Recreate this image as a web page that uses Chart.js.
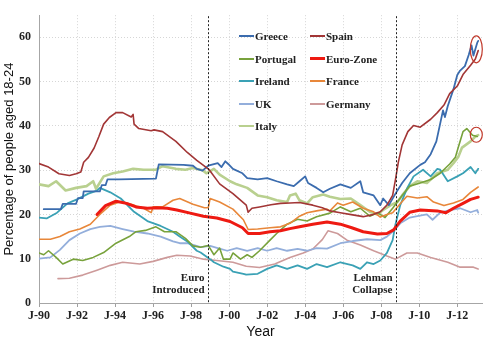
<!DOCTYPE html>
<html><head><meta charset="utf-8">
<script src="https://cdn.jsdelivr.net/npm/chart.js@4.4.0/dist/chart.umd.min.js"></script>
<style>
html,body{margin:0;padding:0;background:#fff;}
#wrap{position:relative;width:490px;height:338px;overflow:hidden;}
canvas{position:absolute;left:0;top:0;}
.lg{position:absolute;font:bold 11px "Liberation Serif",serif;color:#222;white-space:nowrap;height:14px;line-height:14px;}
.lg i{display:inline-block;width:15px;height:2px;vertical-align:middle;margin-right:1px;position:relative;top:-1px;}
</style></head><body>
<div id="wrap"><canvas id="c" width="490" height="338"></canvas><div id="legend"></div></div>
<script>
// ---------- data (years as decimals, values in %) ----------
const tickYears  = [1990,1992,1994,1996,1998,2000,2002,2004,2006,2008,2010,2012];
const tickLabels = ['J-90','J-92','J-94','J-96','J-98','J-00','J-02','J-04','J-06','J-08','J-10','J-12'];
const yTicks = [0,10,20,30,40,50,60];

const greeceT = [1990.25,1991.15,1991.25,1991.95,1992.05,1992.3,1992.35,1993.2,1993.3,1993.5,1993.6,1994.2,1996.15,1996.3,1997.6,1998.1,1998.3,1998.6,1998.9,1999.4,1999.6,1999.8,1999.95,2000.2,2000.7,2000.95,2001.5,2002.0,2002.5,2003.05,2003.4,2003.7,2004.0,2004.15,2004.6,2004.95,2005.3,2005.85,2006.4,2006.9,2007.05,2007.6,2007.95,2008.1,2008.4,2008.75,2009.1,2009.5,2010.05,2010.3,2010.6,2010.9,2011.1,2011.25,2011.35,2011.5,2011.8,2012.0,2012.15,2012.4,2012.6,2012.75,2012.85,2013.05,2013.1];
const greeceV = [21.2,21.2,22.4,22.4,23.7,23.7,25.2,25.2,26.6,26.6,27.9,27.9,28.1,31.3,31.2,31.0,30.3,29.9,31.0,31.6,30.7,32.0,31.4,30.3,29.3,28.2,27.9,28.2,27.5,26.8,26.4,27.5,28.6,27.1,26.0,25.0,25.8,26.8,26.0,27.5,25.0,24.3,22.1,23.6,22.1,24.7,27.1,29.3,31.2,31.8,33.6,36.5,40.5,43.5,42.0,44.5,48.3,51.5,52.5,53.5,56.0,58.2,55.9,58.8,59.2];

const spainT = [1990.0,1990.5,1991.05,1991.6,1991.95,1992.2,1992.35,1992.6,1992.9,1993.15,1993.4,1993.7,1994.05,1994.4,1994.85,1994.95,1995.0,1995.25,1995.9,1996.05,1996.5,1997.2,1997.8,1998.3,1998.95,1999.5,2000.2,2000.9,2001.0,2001.2,2001.6,2002.2,2002.7,2003.2,2003.7,2004.4,2004.9,2005.3,2005.85,2006.5,2007.05,2007.5,2007.95,2008.3,2008.6,2008.75,2008.9,2009.1,2009.4,2009.7,2010.05,2010.6,2010.95,2011.3,2011.6,2012.0,2012.3,2012.7,2012.95,2013.1];
const spainV = [31.5,30.7,29.2,28.8,29.2,29.6,31.8,32.9,35.0,37.6,40.4,41.9,43.0,43.0,42.0,42.6,40.4,39.4,38.9,39.1,38.7,36.5,34.0,32.2,30.1,26.9,24.7,22.1,20.5,21.4,21.7,22.2,22.5,22.6,22.7,22.1,21.5,20.8,20.4,19.9,19.5,19.9,20.6,22.1,24.3,27.9,31.8,35.7,38.7,40.1,39.7,41.5,43.0,44.7,47.3,49.0,51.6,53.7,55.1,57.0];

const portugalT = [1990.0,1990.25,1990.5,1990.9,1991.25,1991.8,1992.3,1992.85,1993.4,1994.05,1994.75,1995.1,1995.6,1996.15,1996.6,1997.2,1997.7,1998.1,1998.5,1998.9,1999.2,1999.5,1999.7,2000.05,2000.2,2000.6,2000.95,2001.2,2001.6,2002.15,2002.5,2003.05,2003.6,2004.1,2004.6,2005.3,2005.85,2006.4,2006.9,2007.4,2007.8,2008.2,2008.6,2009.1,2009.5,2010.05,2010.6,2011.1,2011.6,2011.9,2012.05,2012.3,2012.5,2012.8,2013.05];
const portugalV = [11.3,10.9,11.8,10.3,8.8,9.9,9.6,10.3,11.4,13.5,15.0,16.1,16.4,17.2,16.1,16.1,14.6,12.9,12.6,13.0,10.9,12.4,9.9,9.9,11.3,9.9,10.9,10.3,11.8,14.2,15.7,17.8,18.9,18.5,19.5,20.3,21.7,20.6,21.4,19.6,20.4,19.3,21.4,24.3,26.4,27.1,27.9,29.3,31.4,32.9,35.1,38.7,39.4,37.9,37.6];

const euroT = [1993.05,1993.5,1994.05,1994.6,1995.1,1995.7,1996.2,1996.75,1997.25,1997.95,1998.65,1999.35,2000.05,2000.7,2001.0,2001.6,2002.15,2002.7,2003.2,2003.7,2004.4,2005.15,2005.85,2006.45,2007.05,2007.8,2008.3,2008.65,2009.0,2009.5,2010.05,2010.95,2011.4,2011.8,2012.3,2012.7,2013.1];
const euroV = [20.0,22.0,23.0,22.5,21.7,21.4,21.5,21.4,21.0,20.3,19.6,19.2,18.4,17.0,15.7,15.7,16.1,16.3,16.8,17.2,17.8,18.3,17.8,17.0,16.1,15.6,15.7,16.5,18.5,20.5,21.0,20.8,20.4,21.4,22.5,23.4,23.9];

const irelandT = [1990.0,1990.4,1990.95,1991.5,1992.0,1992.6,1993.05,1993.2,1993.75,1994.3,1995.0,1995.7,1996.4,1997.05,1997.4,1997.8,1998.3,1998.5,1999.0,1999.2,1999.7,2000.05,2000.2,2000.75,2000.9,2001.5,2002.0,2002.5,2003.05,2003.6,2004.1,2004.6,2005.15,2005.85,2006.5,2006.9,2007.25,2007.6,2007.95,2008.3,2008.6,2008.75,2009.0,2009.35,2009.7,2010.2,2010.6,2010.95,2011.1,2011.5,2012.0,2012.3,2012.7,2012.95,2013.1];
const irelandV = [19.3,19.1,20.4,22.5,23.4,24.7,25.4,26.0,25.0,23.6,20.6,18.5,17.4,16.1,15.0,13.9,11.8,11.4,9.9,9.2,8.2,7.7,7.1,6.6,6.4,6.6,7.7,8.5,7.7,8.5,7.7,8.8,8.1,9.2,8.5,7.7,9.2,8.8,9.6,11.3,14.2,17.8,22.1,25.8,28.6,30.1,28.6,30.3,30.1,27.5,28.6,29.3,30.7,29.3,30.3];

const franceT = [1990.0,1990.6,1991.1,1991.6,1992.15,1992.7,1993.2,1993.75,1994.3,1995.0,1995.5,1995.9,1996.0,1996.5,1997.05,1997.4,1998.1,1998.7,1998.9,1999.0,1999.5,2000.2,2000.75,2001.0,2001.5,2002.15,2002.7,2003.2,2003.7,2004.1,2004.6,2005.15,2005.3,2005.7,2006.0,2006.5,2007.05,2007.6,2007.95,2008.3,2008.6,2009.0,2009.35,2009.9,2010.4,2010.75,2011.3,2011.8,2012.3,2012.7,2013.1];
const franceV = [14.4,14.4,15.0,16.1,16.7,17.8,20.0,22.1,22.9,22.1,21.4,20.4,21.7,21.7,23.2,23.6,22.3,21.5,21.5,23.6,22.8,21.2,18.8,16.6,16.7,17.0,17.2,18.0,19.6,20.4,20.8,21.2,20.8,22.6,22.1,22.8,21.4,20.6,19.4,20.0,20.4,22.4,24.1,23.7,24.0,22.8,22.0,22.6,23.4,25.0,26.2];

const ukT = [1990.0,1990.6,1991.1,1991.6,1992.15,1992.7,1993.2,1993.75,1994.4,1995.0,1995.7,1996.4,1997.05,1997.4,1997.8,1998.5,1999.0,1999.4,1999.9,2000.4,2000.95,2001.5,2002.0,2002.5,2003.05,2003.6,2004.1,2004.6,2005.15,2005.85,2006.5,2007.25,2007.95,2008.3,2008.65,2009.0,2009.5,2009.9,2010.4,2010.7,2011.1,2011.6,2012.15,2012.7,2013.05,2013.1];
const ukV = [10.0,10.3,12.0,14.2,15.7,16.7,17.2,17.4,16.7,16.1,15.7,15.0,13.9,13.5,13.5,12.6,12.9,12.4,11.8,12.4,11.8,12.4,11.8,12.4,11.8,12.2,11.8,12.4,12.3,13.5,14.0,14.4,14.2,15.0,16.3,18.0,19.3,19.6,20.0,18.8,20.4,21.0,21.4,20.5,21.0,20.4];

const germanyT = [1991.0,1991.6,1992.3,1993.05,1993.75,1994.4,1995.3,1996.0,1996.75,1997.25,1997.95,1998.65,1999.35,2000.2,2000.9,2001.6,2002.4,2003.2,2003.9,2004.4,2004.9,2005.2,2005.7,2006.2,2006.9,2007.6,2008.3,2008.75,2009.35,2009.9,2010.6,2011.5,2012.15,2012.85,2013.1];
const germanyV = [5.5,5.6,6.3,7.4,8.5,9.2,8.8,9.4,10.3,10.8,10.6,9.9,9.6,9.2,8.3,8.0,8.8,10.3,11.3,12.2,14.3,16.3,15.7,14.2,13.1,11.8,10.6,9.9,11.3,11.3,10.3,9.2,8.1,8.1,7.7];

const italyT = [1990.0,1990.5,1990.9,1991.4,1991.95,1992.5,1992.85,1993.0,1993.4,1993.9,1994.4,1994.95,1995.5,1996.15,1996.5,1997.2,1997.7,1998.1,1998.6,1998.8,1999.2,1999.5,2000.05,2000.4,2000.95,2001.5,2002.0,2002.5,2003.05,2003.2,2003.5,2003.7,2004.1,2004.4,2004.95,2005.3,2005.85,2006.4,2006.9,2007.4,2007.8,2008.1,2008.5,2008.85,2009.1,2009.5,2009.9,2010.4,2010.95,2011.5,2011.8,2012.05,2012.25,2012.7,2012.95,2013.1];
const italyV = [26.8,26.4,27.5,25.4,26.0,26.4,27.5,25.8,28.6,29.3,29.7,30.3,30.1,30.1,30.9,30.3,30.1,30.5,30.0,29.3,30.3,29.0,27.5,26.8,26.0,24.3,23.9,23.2,22.8,24.3,24.7,23.2,22.5,23.9,24.5,24.0,23.5,23.6,22.1,20.6,20.0,21.0,22.1,22.8,24.3,26.4,27.5,27.1,29.3,30.1,31.6,33.0,35.1,36.5,37.6,37.9];

const seriesNames = ['Greece','Spain','Portugal','Euro-Zone','Ireland','France','UK','Germany','Italy'];
const seriesT = [greeceT,spainT,portugalT,euroT,irelandT,franceT,ukT,germanyT,italyT];
const seriesV = [greeceV,spainV,portugalV,euroV,irelandV,franceV,ukV,germanyV,italyV];

const eventYears  = [1998.9, 2008.8];
const eventLabels = [['Euro','Introduced'],['Lehman','Collapse']];
const highlightYears  = [2013.0, 2013.0];
const highlightValues = [57.3, 38.0];

// ---------- styles ----------
const colors = ['#3b6cae','#a23636','#78a23c','#ee1a12','#3aa1b5','#e8873a','#93aedb','#cd9a9a','#b9d08f'];
const widths = [1.8,1.6,1.6,3,1.8,1.6,1.8,1.6,2.6];
const orders = [2,1,4,0,5,3,6,7,8];
const highlightRadii = [[6,13.5],[6,7.5]];

const datasets = seriesNames.map((n,i)=>({
  label:n,
  data: seriesT[i].map((t,j)=>({x:t,y:seriesV[i][j]})),
  borderColor:colors[i], backgroundColor:colors[i],
  borderWidth:widths[i], pointRadius:0, tension:0, fill:false,
  borderJoinStyle:'round', borderCapStyle:'round', order:orders[i]
}));

const overlay = {
  id:'overlay',
  afterDatasetsDraw(chart){
    const {ctx, chartArea:a, scales:{x,y}} = chart;
    ctx.save();
    ctx.strokeStyle='#222'; ctx.lineWidth=1;
    eventYears.forEach((yr,i)=>{
      const px=Math.round(x.getPixelForValue(yr))+0.5;
      ctx.setLineDash([2,2]);
      ctx.beginPath(); ctx.moveTo(px,a.top+1); ctx.lineTo(px,a.bottom); ctx.stroke();
      ctx.setLineDash([]);
      ctx.fillStyle='#222'; ctx.font='bold 11px "Liberation Serif", serif';
      ctx.textAlign='right'; ctx.textBaseline='middle';
      ctx.fillText(eventLabels[i][0], px-4, a.bottom-25);
      ctx.fillText(eventLabels[i][1], px-4, a.bottom-13);
    });
    ctx.setLineDash([]);
    ctx.strokeStyle='#c0392b'; ctx.lineWidth=1.2;
    highlightYears.forEach((yr,i)=>{
      const cx=x.getPixelForValue(yr), cy=y.getPixelForValue(highlightValues[i]);
      ctx.beginPath(); ctx.ellipse(cx,cy,highlightRadii[i][0],highlightRadii[i][1],0,0,Math.PI*2); ctx.stroke();
    });
    ctx.restore();
  }
};

const gridColor = '#d6d6d6';
new Chart(document.getElementById('c'), {
  type:'line',
  data:{datasets},
  plugins:[overlay],
  options:{
    responsive:false, animation:false, devicePixelRatio:1,
    layout:{padding:{top:1,right:8,left:0,bottom:0}},
    plugins:{legend:{display:false}, tooltip:{enabled:false}},
    scales:{
      x:{type:'linear', min:1990, max:2013.3,
        afterBuildTicks:s=>{ s.ticks = tickYears.map(v=>({value:v})); },
        afterFit:s=>{ s.height = 35; },
        ticks:{callback:v=>tickLabels[tickYears.indexOf(v)], autoSkip:false, maxRotation:0,
          font:{family:'"Liberation Serif", serif', weight:'bold', size:12}, color:'#222', padding:2},
        grid:{color:gridColor, tickColor:'#a0a0a0', tickLength:4, tickBorderDash:[]},
        border:{color:'#a6a6a6', dash:[1,2]},
        title:{display:true, text:'Year', color:'#111',
          font:{family:'"Liberation Sans", Arial, sans-serif', size:14, lineHeight:0.9}, padding:{top:0,bottom:0}}
      },
      y:{min:0, max:65,
        afterBuildTicks:s=>{ s.ticks = yTicks.map(v=>({value:v})); },
        afterFit:s=>{ s.width = 39; },
        ticks:{font:{family:'"Liberation Serif", serif', weight:'bold', size:12}, color:'#222', padding:8},
        grid:{color:gridColor, drawTicks:false},
        border:{color:'#a6a6a6', dash:[1,2]},
        title:{display:true, text:'Percentage of people aged 18-24', color:'#111',
          font:{family:'"Liberation Sans", Arial, sans-serif', size:13}, padding:{top:2,bottom:0}}
      }
    }
  }
});

// ---------- legend (two columns, row-major) ----------
const lgCols = [239, 310];
const lgRows = [29, 51.5, 74, 96.5, 119];
const lg = document.getElementById('legend');
seriesNames.forEach((n,i)=>{
  const d=document.createElement('div'); d.className='lg';
  d.style.left=lgCols[i%2]+'px'; d.style.top=lgRows[Math.floor(i/2)]+'px';
  const sw=document.createElement('i'); sw.style.background=colors[i];
  if(n==='Euro-Zone') sw.style.height='3px';
  d.appendChild(sw); d.appendChild(document.createTextNode(n));
  lg.appendChild(d);
});
</script>
</body></html>
